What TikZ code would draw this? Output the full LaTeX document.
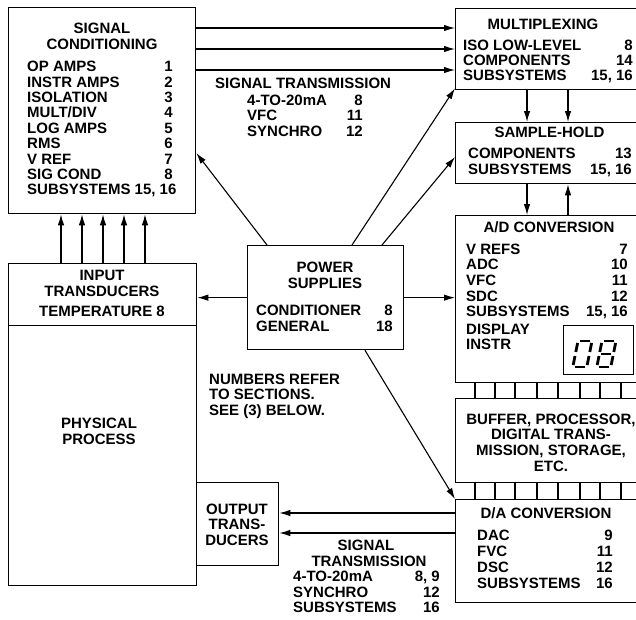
\documentclass[tikz,border=0pt]{standalone}
\usepackage{fontspec}
\setmainfont{Liberation Sans}
\usetikzlibrary{arrows.meta, calc}

\tikzset{
  every node/.style={font=\bfseries\fontsize{15}{16}\selectfont},
  box/.style={draw, line width=1.3pt, inner sep=0pt, anchor=north west},
  lbl/.style={anchor=base west, inner sep=0pt},
  num/.style={anchor=base east, inner sep=0pt},
  ttl/.style={anchor=base, inner sep=0pt},
  arr/.style={line width=1.1pt, -{Latex[length=11pt,width=6.5pt]}},
  seg/.style={line width=2.8pt}
}

\begin{document}
\begin{tikzpicture}[x=1pt, y=-1pt]
    \useasboundingbox (0,0) rectangle (636,619);
    \clip (0,0) rectangle (636,619);

    % Blocs
    \node[box, minimum width=187pt, minimum height=206pt] (sigcond) at (8,7) {};
    \node[box, minimum width=188pt, minimum height=62pt] (intrans) at (8,263) {};
    \node[box, minimum width=188pt, minimum height=260pt] (phys) at (8,325) {};
    \node[box, minimum width=82pt, minimum height=83pt] (outtrans) at (196,482) {};
    \node[box, minimum width=156pt, minimum height=104pt] (power) at (247,245) {};
    \node[box, minimum width=190pt, minimum height=81pt] (mux) at (455,8) {};
    \node[box, minimum width=190pt, minimum height=61pt] (sh) at (455,122) {};
    \node[box, minimum width=190pt, minimum height=167pt] (ad) at (455,215) {};
    \node[box, minimum width=190pt, minimum height=84pt] (buf) at (455,398) {};
    \node[box, minimum width=190pt, minimum height=103pt] (da) at (455,499) {};
    \node[box, minimum width=70pt, minimum height=49pt] (disp) at (563,325) {};

    % Conditionnement
    \node[ttl] (sc-h1) at (102,33.3) {SIGNAL};
    \node[ttl] (sc-h2) at (102,49.3) {CONDITIONING};
    \foreach \t/\n [count=\i from 0] in {OP AMPS/1, INSTR AMPS/2, ISOLATION/3,
        {MULT/DIV}/4, LOG AMPS/5, RMS/6, V REF/7, SIG COND/8} {
        \node[lbl] (sc-t\i) at (27,{71.7+15.4*\i}) {\t};
        \node[num] (sc-n\i) at (173,{71.7+15.4*\i}) {\n};
    }
    \node[lbl] (sc-t8) at (27,194.9) {SUBSYSTEMS 15, 16};

    % Transmission (haut)
    \node[lbl] (tx-h) at (215,88.3) {SIGNAL TRANSMISSION};
    \foreach \t/\n [count=\i from 0] in {4-TO-20mA/8, VFC/11, SYNCHRO/12} {
        \node[lbl] (tx-t\i) at (247,{105+15.8*\i}) {\t};
        \node[num] (tx-n\i) at (363,{105+15.8*\i}) {\n};
    }

    % Multiplexage
    \node[ttl] (mux-h) at (543,29.3) {MULTIPLEXING};
    \foreach \t/\n [count=\i from 0] in {ISO LOW-LEVEL/8, COMPONENTS/14, SUBSYSTEMS/{15, 16}} {
        \node[lbl] (mux-t\i) at (463,{50+15.4*\i}) {\t};
        \node[num] (mux-n\i) at (633,{50+15.4*\i}) {\n};
    }

    % Echantillonneur
    \node[ttl] (sh-h) at (549.5,137.7) {SAMPLE-HOLD};
    \foreach \t/\n [count=\i from 0] in {COMPONENTS/13, SUBSYSTEMS/{15, 16}} {
        \node[lbl] (sh-t\i) at (468,{158.3+15.7*\i}) {\t};
        \node[num] (sh-n\i) at (632,{158.3+15.7*\i}) {\n};
    }

    % Conversion A/N
    \node[ttl] (ad-h) at (549,232.7) {A/D CONVERSION};
    \foreach \t/\n [count=\i from 0] in {V REFS/7, ADC/10, VFC/11, SDC/12, SUBSYSTEMS/{15, 16}} {
        \node[lbl] (ad-t\i) at (466,{254+15.7*\i}) {\t};
        \node[num] (ad-n\i) at (628,{254+15.7*\i}) {\n};
    }
    \node[lbl] (ad-d1) at (466,334) {DISPLAY};
    \node[lbl] (ad-d2) at (466,349.3) {INSTR};

    % Afficheur 08
    \begin{scope}[shift={(578,341)}, xslant=0.2]
        \foreach \xa/\ya/\xb/\yb in {2/0/12/0, 14/2/14/11, 14/15/14/24, 2/26/12/26, 0/15/0/24, 0/2/0/11}
            \draw[seg] (\xa,\ya) -- (\xb,\yb);
    \end{scope}
    \begin{scope}[shift={(602,341)}, xslant=0.2]
        \foreach \xa/\ya/\xb/\yb in {2/0/12/0, 14/2/14/11, 14/15/14/24, 2/26/12/26, 0/15/0/24, 0/2/0/11, 2/13/12/13}
            \draw[seg] (\xa,\ya) -- (\xb,\yb);
    \end{scope}

    % Traitement
    \foreach \t [count=\i from 0] in {{BUFFER, PROCESSOR,}, DIGITAL TRANS-, {MISSION, STORAGE,}, ETC.}
        \node[ttl] (buf-t\i) at (551,{424.3+15.6*\i}) {\t};

    % Conversion N/A
    \node[ttl] (da-h) at (546,518.3) {D/A CONVERSION};
    \foreach \t/\n [count=\i from 0] in {DAC/9, FVC/11, DSC/12, SUBSYSTEMS/16} {
        \node[lbl] (da-t\i) at (477,{540+16*\i}) {\t};
        \node[num] (da-n\i) at (613,{540+16*\i}) {\n};
    }

    % Alimentations
    \node[ttl] (ps-h1) at (325,272.7) {POWER};
    \node[ttl] (ps-h2) at (325,288.3) {SUPPLIES};
    \foreach \t/\n [count=\i from 0] in {CONDITIONER/8, GENERAL/18} {
        \node[lbl] (ps-t\i) at (256,{315+16*\i}) {\t};
        \node[num] (ps-n\i) at (393,{315+16*\i}) {\n};
    }

    % Capteurs, processus, actionneurs
    \node[ttl] (in-h1) at (102,280.7) {INPUT};
    \node[ttl] (in-h2) at (102,296.7) {TRANSDUCERS};
    \node[ttl] (in-h3) at (102,316.7) {TEMPERATURE 8};
    \node[ttl] (ph-h1) at (99,428.3) {PHYSICAL};
    \node[ttl] (ph-h2) at (99,444) {PROCESS};
    \node[ttl] (out-h1) at (237,514) {OUTPUT};
    \node[ttl] (out-h2) at (237,529.3) {TRANS-};
    \node[ttl] (out-h3) at (237,545) {DUCERS};

    % Remarque
    \node[lbl] (note1) at (209,384) {NUMBERS REFER};
    \node[lbl] (note2) at (209,399.3) {TO SECTIONS.};
    \node[lbl] (note3) at (209,415) {SEE (3) BELOW.};

    % Transmission (bas)
    \node[ttl] (bx-h1) at (366,550.7) {SIGNAL};
    \node[ttl] (bx-h2) at (369,566) {TRANSMISSION};
    \foreach \t/\n [count=\i from 0] in {4-TO-20mA/{8, 9}, SYNCHRO/12, SUBSYSTEMS/16} {
        \node[lbl] (bx-t\i) at (293,{581.7+15.5*\i}) {\t};
        \node[num] (bx-n\i) at (440,{581.7+15.5*\i}) {\n};
    }

    % Fleches
    \foreach \dy [count=\i] in {21,42,63} {
        \coordinate (sc-o\i) at ([yshift=-\dy pt]sigcond.north east);
        \draw[arr] (sc-o\i) -- (sc-o\i -| mux.west);
    }
    \foreach \dx in {53,74,95,116,137}
        \draw[arr] ([xshift=\dx pt]intrans.north west) -- ([xshift=\dx pt]sigcond.south west);
    \draw[arr] ([xshift=20pt]power.north west) -- ([yshift=-146pt]sigcond.north east);
    \draw[arr] ([xshift=105pt]power.north west) -- ([yshift=2pt]mux.south west);
    \draw[arr] ([xshift=135pt]power.north west) -- ([yshift=-35pt]sh.north west);
    \draw[arr] (power.west) -- (power.west -| intrans.east);
    \draw[arr] (power.east) -- (power.east -| ad.west);
    \draw[arr] ([xshift=118pt]power.south west) -- (da.north west);
    \draw[arr] ([xshift=72pt]mux.south west) -- ([xshift=72pt]sh.north west);
    \draw[arr] ([xshift=113pt]mux.south west) -- ([xshift=113pt]sh.north west);
    \draw[arr] ([xshift=72pt]sh.south west) -- ([xshift=72pt]ad.north west);
    \draw[arr] ([xshift=113pt]ad.north west) -- ([xshift=113pt]sh.south west);
    \foreach \dy [count=\i] in {14,34} {
        \coordinate (da-o\i) at ([yshift=-\dy pt]da.north west);
        \draw[arr] (da-o\i) -- (da-o\i -| outtrans.east);
    }

    % Bus
    \foreach \dx in {20,40,60,82,103,125,145,166} {
        \draw[line width=1.1pt] ([xshift=\dx pt]ad.south west) -- ([xshift=\dx pt]buf.north west);
        \draw[line width=1.1pt] ([xshift=\dx pt]buf.south west) -- ([xshift=\dx pt]da.north west);
    }
\end{tikzpicture}
\end{document}
